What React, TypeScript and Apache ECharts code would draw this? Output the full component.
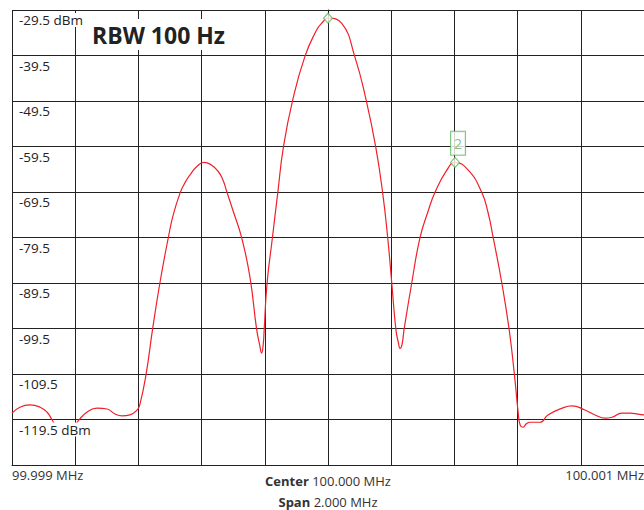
import React, { useEffect, useRef } from "react";
import * as echarts from "echarts";

// Frequency offset from the 100.000 MHz centre, in Hz
const freqHz = [
  -1000, -975, -943, -911, -889, -873, -854, -832, -810, -788, -763, -731, -699, -674, -652, -627, -604, -595,
  -576, -555, -532, -505, -490, -468, -453, -437, -415, -392, -368, -351, -335, -320, -301, -273, -247, -226,
  -216, -210, -205, -202, -193, -176, -159, -141, -113, -73, -36, -20, 0, 43, 85, 122, 151, 173, 189, 202,
  215, 223, 228, 234, 241, 265, 291, 316, 339, 376, 402, 444, 486, 506, 523, 550, 573, 590, 602, 608, 617,
  627, 639, 671, 696, 741, 772, 813, 845, 877, 899, 930, 956, 981, 1000,
];
// Trace level in dBm
const traceDbm = [
  -118.1, -116.8, -116.3, -116.8, -117.9, -119.6, -121.6, -122.4, -121.6, -119.6, -117.9, -117.0, -117.2, -118.3,
  -118.7, -118.5, -117.4, -116.1,
  -109.7, -99.6, -89.5, -79.4, -74.6, -69.7, -67.5, -65.8, -63.9, -63.0, -63.6, -64.7, -66.4, -69.5, -73.5,
  -79.6, -88.2, -99.6,
  -103.2, -104.9, -103.0, -99.8, -89.7, -79.6, -69.7, -59.6, -49.7, -39.7, -33.9, -32.4, -31.3, -32.4, -39.8,
  -49.7, -59.6, -69.7, -79.6, -89.7,
  -99.8, -102.7, -103.9, -103.1, -99.6, -89.5, -79.6, -73.9, -69.5, -64.7, -63.0, -64.7, -69.5, -73.9, -79.6,
  -89.5, -99.6, -109.7, -118.1, -120.7, -121.2,
  -120.5, -120.1, -120.1, -118.5, -117.0, -116.5, -117.4, -118.5, -119.2, -119.0, -118.1, -118.1, -118.3, -118.5,
];

const markerNames = ["1", "2"];
const markerFreqHz = [0, 402];
const markerDbm = [-31.3, -63.0];

const refLevelDbm = -29.5;
const dbPerDiv = 10;
const divisions = 10;
const bottomDbm = refLevelDbm - dbPerDiv * divisions; // -129.5
const centerMHz = 100;
const halfSpanHz = 1000;
const unitLabelDbm = [-29.5, -119.5];
const rbwText = "RBW 100 Hz";
const centerText = "100.000 MHz";
const spanText = "2.000 MHz";

const FONT = '"Open Sans", "Noto Sans", sans-serif';
const GRID = "#222";
const GREEN = "#5cb85c";

export default function App() {
  const ref = useRef<HTMLDivElement>(null);
  useEffect(() => {
    if (!ref.current) return;
    const chart = echarts.init(ref.current, null, { renderer: "svg" });
    const trace = freqHz.map((f, i) => [f, traceDbm[i] - bottomDbm]);
    const markers = markerFreqHz.map((f, i) => ({
      value: [f, markerDbm[i] - bottomDbm],
      name: markerNames[i],
      label:
        i === 1
          ? {
              show: true,
              formatter: markerNames[i],
              position: "top",
              distance: 2,
              offset: [3, 0],
              color: GREEN,
              fontSize: 14,
              lineHeight: 18,
              fontFamily: FONT,
              borderColor: GREEN,
              borderWidth: 1,
              backgroundColor: "#fff",
              padding: [3, 3, 2, 3],
            }
          : { show: false },
    }));
    const option: any = {
      animation: false,
      textStyle: { fontFamily: FONT },
      grid: { left: 12, right: 0, top: 10, bottom: 45, containLabel: false, outerBoundsMode: "none" },
      xAxis: {
        type: "value",
        min: -halfSpanHz,
        max: halfSpanHz,
        interval: 200,
        axisLine: { show: true, onZero: false, lineStyle: { color: GRID, width: 1 } },
        axisTick: { show: false },
        splitLine: { show: true, lineStyle: { color: GRID, width: 1 } },
        axisLabel: {
          show: true,
          showMinLabel: true,
          showMaxLabel: true,
          alignMinLabel: "left",
          alignMaxLabel: "right",
          margin: 3,
          fontSize: 13,
          color: "#333",
          fontFamily: FONT,
          formatter: (v: number) =>
            v === -halfSpanHz || v === halfSpanHz ? `${(centerMHz + v / 1e6).toFixed(3)} MHz` : "",
        },
        name: `{b|Center} ${centerText}\n{b|Span} ${spanText}`,
        nameLocation: "middle",
        nameGap: 5,
        nameMoveOverlap: false,
        nameTextStyle: {
          fontSize: 13,
          lineHeight: 21,
          color: "#333",
          fontFamily: FONT,
          verticalAlign: "top",
          rich: { b: { fontWeight: "bold", fontSize: 13, lineHeight: 21, color: "#333", fontFamily: FONT } },
        },
      },
      yAxis: [
        {
          type: "value",
          min: 0,
          max: dbPerDiv * divisions,
          interval: dbPerDiv,
          axisLine: { show: true, lineStyle: { color: GRID, width: 1 } },
          axisTick: { show: false },
          axisLabel: { show: false },
          splitLine: { show: true, lineStyle: { color: GRID, width: 1 } },
        },
        {
          type: "value",
          min: 0,
          max: dbPerDiv * divisions,
          interval: dbPerDiv,
          position: "left",
          z: 10,
          axisLine: { show: false },
          axisTick: { show: false },
          splitLine: { show: false },
          axisLabel: {
            inside: true,
            showMinLabel: false,
            margin: 4,
            align: "left",
            verticalAlign: "top",
            padding: [2, 0, 0, 0],
            formatter: (v: number) => {
              const d = v + bottomDbm;
              const s = d.toFixed(1);
              return unitLabelDbm.includes(Number(s)) ? `{t|${s} dBm}` : `{t|${s}}`;
            },
            rich: {
              t: {
                fontSize: 13.5,
                lineHeight: 16,
                color: "#222",
                fontFamily: FONT,
                backgroundColor: "#fff",
                padding: [0, 3, 0, 3],
              },
            },
          },
        },
      ],
      series: [
        {
          type: "line",
          data: trace,
          symbol: "none",
          smooth: 0.5,
          lineStyle: { color: "#f0202a", width: 1.2 },
          z: 3,
        },
        {
          type: "scatter",
          data: markers,
          symbol: "diamond",
          symbolSize: [9, 10],
          itemStyle: { color: "#fff", borderColor: GREEN, borderWidth: 1.2 },
          z: 20,
        },
      ],
      graphic: [
        {
          type: "text",
          left: 86,
          top: 19,
          z: 100,
          style: {
            text: rbwText,
            font: `bold 23px ${FONT}`,
            fill: "#222",
            lineHeight: 27,
            backgroundColor: "#fff",
            padding: [2, 6, 2, 6],
          },
        },
      ],
    };
    chart.setOption(option);
    return () => chart.dispose();
  }, []);
  return <div ref={ref} style={{ position: "absolute", left: 0, top: 0, width: 644, height: 510 }} />;
}
